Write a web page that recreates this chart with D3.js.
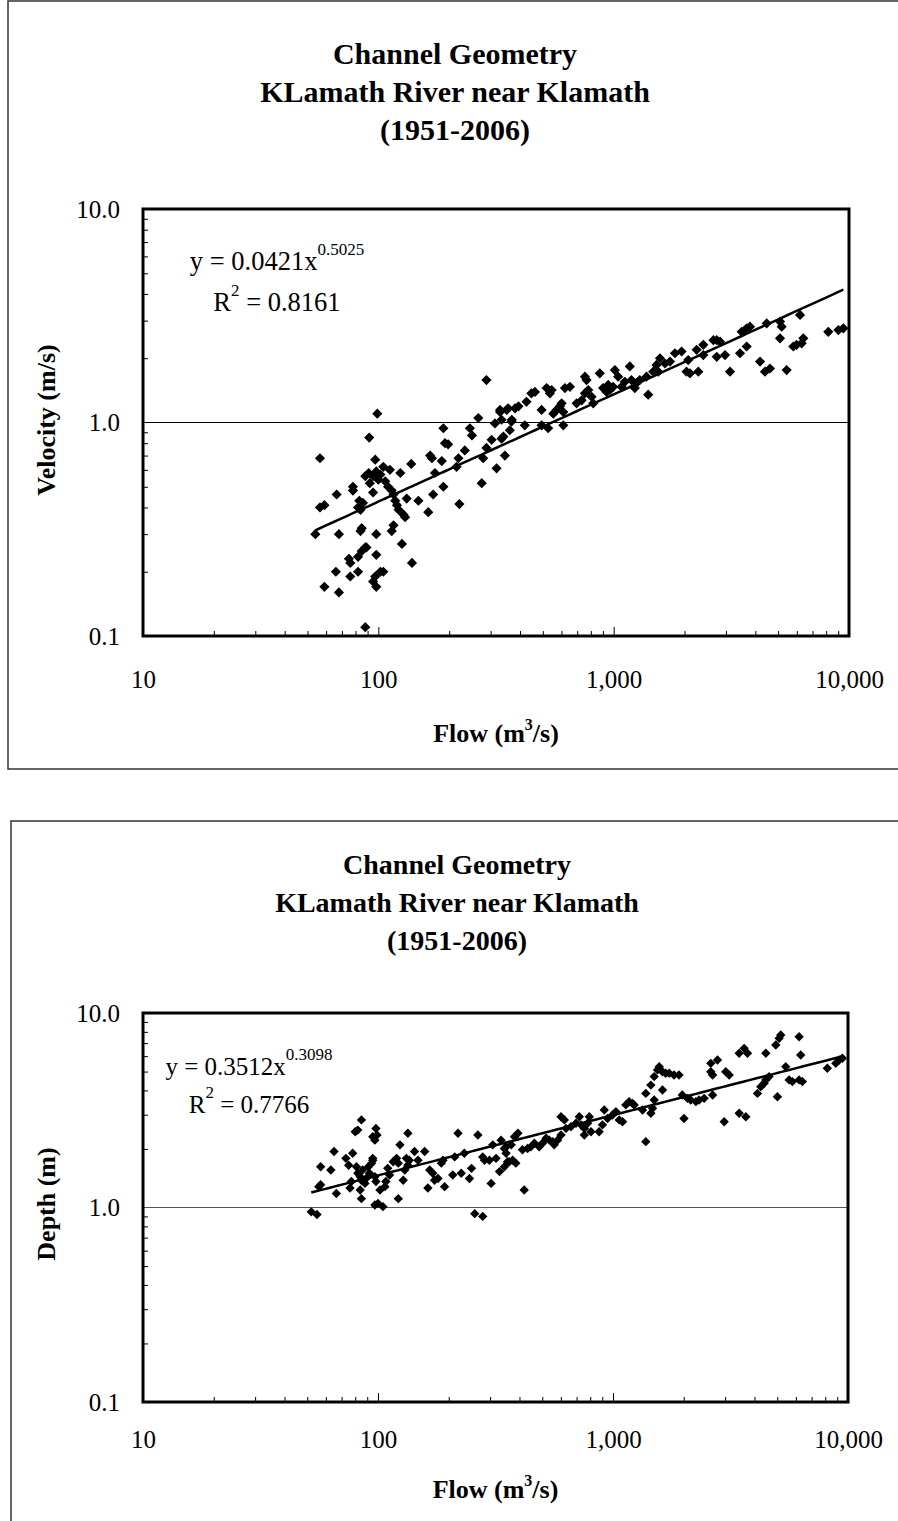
<!DOCTYPE html>
<html>
<head>
<meta charset="utf-8">
<script src="https://cdn.jsdelivr.net/npm/d3@7"></script>
<style>
  body { margin: 0; background: #fff; }
  svg text { font-family: "Times New Roman", "Liberation Serif", serif; fill: #000; }
</style>
</head>
<body>
<div id="chart"></div>
<script>
// ---- shared axis values ----
const flowTicks = [10, 100, 1000, 10000];
const flowTickLabels = ["10", "100", "1,000", "10,000"];
const yTicks = [0.1, 1, 10];
const yTickLabels = ["0.1", "1.0", "10.0"];
const titleLines = ["Channel Geometry", "KLamath River near Klamath", "(1951-2006)"];

// ---- velocity chart ----
const velocityFlow = [56.5, 99, 91.5, 288, 54, 56.5, 59, 66.5, 68, 78, 78, 83, 82, 84, 86, 88, 91, 92, 95, 97,
  98, 100, 102, 105, 107, 110, 112, 114, 116, 118, 120, 122, 124, 128, 130, 95, 84, 85, 98, 114,
  116, 126, 139, 88, 89, 85, 98, 75, 76, 82, 82, 76, 66, 59, 68, 95, 97, 98, 102, 105,
  88, 132, 138, 148, 163, 166, 169, 171, 174, 186, 189, 189, 192, 198, 219, 215, 221, 233, 245, 250,
  266, 275, 279, 288, 303, 313, 329, 334, 318, 345, 356, 362, 369, 381, 394, 329, 334, 340, 368, 351,
  419, 426, 447, 463, 494, 494, 527, 519, 545, 536, 554, 572, 591, 601, 611, 611, 621, 652, 696, 731,
  755, 767, 755, 780, 806, 819, 873, 902, 933, 948, 964, 995, 1012, 1045, 1080, 1115, 1171, 1190, 1230, 1250,
  1291, 1402, 1379, 1473, 1521, 1573, 1547, 1652, 1735, 1822, 1944, 2040, 2110, 2289, 2074, 2253, 2404, 2404, 2654, 2742,
  2832, 2742, 2973, 3122, 3499, 3675, 3796, 3443, 3675, 4188, 4396, 4616, 4470, 5092, 5175, 5092, 5433, 5800, 5990, 6293,
  6395, 6193, 8166, 9014, 9465];
const velocityValue = [0.68, 1.10, 0.85, 1.58, 0.30, 0.40, 0.41, 0.46, 0.30, 0.50, 0.48, 0.43, 0.40, 0.39, 0.42, 0.56, 0.58, 0.52, 0.56, 0.67,
  0.59, 0.54, 0.57, 0.62, 0.53, 0.50, 0.60, 0.48, 0.46, 0.43, 0.41, 0.39, 0.58, 0.37, 0.36, 0.47, 0.31, 0.32, 0.30, 0.31,
  0.33, 0.27, 0.22, 0.26, 0.26, 0.25, 0.24, 0.23, 0.22, 0.235, 0.20, 0.19, 0.20, 0.17, 0.16, 0.18, 0.19, 0.17, 0.20, 0.20,
  0.11, 0.44, 0.64, 0.43, 0.38, 0.70, 0.68, 0.46, 0.58, 0.66, 0.50, 0.94, 0.80, 0.79, 0.68, 0.62, 0.415, 0.74, 0.94, 0.87,
  1.05, 0.52, 0.68, 0.76, 0.83, 0.99, 1.12, 0.84, 0.61, 0.70, 1.165, 0.92, 1.03, 1.165, 1.19, 1.145, 1.03, 0.86, 1.01, 1.145,
  0.97, 1.25, 1.37, 1.39, 1.145, 0.97, 0.94, 1.45, 1.42, 1.37, 1.10, 1.145, 1.19, 1.23, 1.12, 0.97, 1.45, 1.47, 1.23, 1.27,
  1.37, 1.58, 1.64, 1.42, 1.32, 1.23, 1.70, 1.45, 1.39, 1.50, 1.42, 1.47, 1.76, 1.64, 1.47, 1.55, 1.83, 1.58, 1.45, 1.53,
  1.58, 1.35, 1.64, 1.73, 1.86, 2.00, 1.73, 1.89, 1.93, 2.11, 2.15, 1.73, 1.70, 1.73, 1.96, 2.19, 2.31, 2.07, 2.43, 2.43,
  2.39, 2.03, 2.07, 1.73, 2.66, 2.76, 2.81, 2.11, 2.27, 1.93, 1.73, 1.79, 2.91, 2.97, 2.81, 2.48, 1.76, 2.27, 2.31, 2.35,
  2.48, 3.19, 2.66, 2.71, 2.76];
const velocityFit = [0.0421, 0.5025];
const velocityEq = ["y = 0.0421x", "0.5025", "R", "2", " = 0.8161"];

// ---- depth chart ----
const depthFlow = [52, 55, 56, 57, 57, 63, 65, 66.5, 73, 75, 76, 77, 78, 80, 82, 81, 82, 84, 85, 86,
  88, 89, 91, 92, 94, 95, 97, 98, 85, 84, 85, 95, 97, 98, 99, 95, 97, 100, 105, 102,
  107, 108, 110, 112, 116, 120, 122, 122, 124, 128, 130, 132, 134, 136, 134, 143, 148, 158, 163, 166,
  171, 174, 180, 186, 189, 192, 208, 212, 219, 226, 233, 245, 250, 258, 279, 266, 279, 284, 298, 303,
  308, 318, 329, 334, 345, 351, 362, 369, 381, 394, 351, 345, 356, 374, 386, 419, 412, 433, 447, 463,
  485, 501, 519, 536, 554, 562, 581, 601, 601, 621, 631, 662, 696, 719, 731, 755, 780, 793, 806, 755,
  873, 902, 918, 948, 995, 1029, 1063, 1098, 1134, 1171, 1211, 1230, 1336, 1379, 1449, 1473, 1497, 1379, 1449, 1497,
  1547, 1573, 1624, 1676, 1735, 1818, 1909, 1624, 1972, 2074, 2141, 2253, 2323, 2442, 2005, 2654, 2607, 2784, 2607, 2654,
  2973, 3019, 3122, 3443, 3675, 3443, 3614, 3735, 4119, 4254, 4396, 4470, 4616, 4470, 5008, 4928, 5092, 5175, 5433, 5617,
  5800, 6193, 6395, 6193, 6293, 8166, 8872, 9167, 9465];
const depthValue = [0.95, 0.92, 1.28, 1.31, 1.62, 1.56, 1.94, 1.18, 1.79, 1.65, 1.26, 1.36, 1.90, 2.45, 2.50, 1.62, 1.50, 1.44, 1.38, 1.56,
  1.33, 1.41, 1.62, 1.50, 1.69, 1.75, 1.44, 1.36, 2.82, 1.23, 1.11, 2.31, 2.22, 2.55, 2.36, 1.79, 1.03, 1.05, 1.01, 1.23,
  1.28, 1.36, 1.59, 1.47, 1.72, 1.79, 1.69, 1.11, 2.10, 1.38, 1.56, 1.79, 1.65, 1.75, 2.41, 1.94, 1.75, 1.94, 1.26, 1.56,
  1.50, 1.38, 1.41, 1.69, 1.75, 1.28, 1.47, 1.82, 2.41, 1.50, 1.90, 1.41, 1.59, 0.93, 0.90, 2.36, 1.82, 1.75, 1.75, 1.33,
  2.10, 1.79, 1.53, 2.22, 2.01, 1.90, 1.72, 2.10, 2.31, 2.41, 2.05, 1.62, 1.72, 1.75, 1.69, 1.23, 1.98, 2.01, 2.05, 2.14,
  2.05, 2.14, 2.27, 2.22, 2.18, 2.10, 2.22, 2.36, 2.93, 2.82, 2.55, 2.60, 2.71, 2.93, 2.66, 2.55, 2.71, 2.93, 2.45, 2.36,
  2.45, 2.66, 3.17, 2.87, 2.99, 3.11, 2.82, 2.76, 3.37, 3.50, 3.43, 3.37, 3.17, 2.18, 3.05, 3.24, 3.57, 3.86, 4.26, 4.71,
  5.10, 5.30, 4.99, 4.90, 4.90, 4.80, 4.80, 4.02, 3.79, 3.64, 3.57, 3.50, 3.57, 3.64, 2.87, 3.79, 5.51, 5.73, 4.99, 4.80,
  2.76, 4.99, 4.80, 3.05, 2.93, 6.21, 6.58, 6.21, 3.86, 4.18, 4.35, 4.53, 4.71, 6.21, 3.71, 6.85, 7.41, 7.71, 5.30, 4.53,
  4.44, 4.53, 4.44, 7.55, 6.08, 5.20, 5.51, 5.73, 5.85];
const depthFit = [0.3512, 0.3098];
const depthEq = ["y = 0.3512x", "0.3098", "R", "2", " = 0.7766"];

const svg = d3.select("#chart").append("svg")
    .attr("width", 898)
    .attr("height", 1521);

function drawChart(o) {
    const g = svg.append("g");

    // outer chart frame
    g.append("rect")
        .attr("x", o.frame[0]).attr("y", o.frame[1])
        .attr("width", o.frame[2]).attr("height", o.frame[3])
        .attr("fill", "none").attr("stroke", "#333").attr("stroke-width", 1.5);

    const x = d3.scaleLog().domain([10, 10000]).range([o.left, o.right]);
    const y = d3.scaleLog().domain([0.1, 10]).range([o.bottom, o.top]);

    // title
    titleLines.forEach((t, i) => {
        g.append("text")
            .attr("x", o.titleX).attr("y", o.titleY[i])
            .attr("text-anchor", "middle")
            .attr("font-weight", "bold")
            .attr("font-size", o.titleSize)
            .text(t);
    });

    // gridline at 1.0
    g.append("line")
        .attr("x1", x(10)).attr("x2", x(10000))
        .attr("y1", y(1)).attr("y2", y(1))
        .attr("stroke", o.gridColor).attr("stroke-width", 1);

    // inside ticks
    const xMinor = x.ticks().filter(v => !flowTicks.includes(v));
    const yMinor = y.ticks().filter(v => !yTicks.includes(v));
    const noDomain = a => a.select(".domain").remove();

    g.append("g").attr("transform", `translate(0,${o.bottom})`)
        .call(d3.axisBottom(x).tickValues(xMinor).tickSize(-5).tickFormat(""))
        .call(noDomain);
    g.append("g").attr("transform", `translate(0,${o.bottom})`)
        .call(d3.axisBottom(x).tickValues([100, 1000]).tickSize(-9).tickFormat(""))
        .call(noDomain);
    g.append("g").attr("transform", `translate(${o.left},0)`)
        .call(d3.axisLeft(y).tickValues(yMinor).tickSize(-5).tickFormat(""))
        .call(noDomain);

    // tick labels
    g.append("g").attr("transform", `translate(0,${o.bottom})`)
        .call(d3.axisBottom(x).tickValues(flowTicks).tickSize(0).tickPadding(o.xPad)
            .tickFormat((d, i) => flowTickLabels[i]))
        .call(noDomain)
        .attr("font-family", null).attr("font-size", 25);
    g.append("g").attr("transform", `translate(${o.left},0)`)
        .call(d3.axisLeft(y).tickValues(yTicks).tickSize(0).tickPadding(23)
            .tickFormat((d, i) => yTickLabels[i]))
        .call(noDomain)
        .attr("font-family", null).attr("font-size", 25);

    // points
    const diamond = d3.symbol(d3.symbolSquare, o.markerSize);
    g.append("g").selectAll("path")
        .data(d3.zip(o.flow, o.value))
        .join("path")
        .attr("d", diamond)
        .attr("transform", d => `translate(${x(d[0])},${y(d[1])}) rotate(45)`)
        .attr("fill", "#000");

    // power trendline
    const [a, b] = o.fit;
    const xs = d3.sort(o.flow);
    g.append("path")
        .datum(xs)
        .attr("fill", "none").attr("stroke", "#000").attr("stroke-width", 2.5)
        .attr("d", d3.line().x(d => x(d)).y(d => y(a * Math.pow(d, b))));

    // plot box
    g.append("rect")
        .attr("x", o.left).attr("y", o.top)
        .attr("width", o.right - o.left).attr("height", o.bottom - o.top)
        .attr("fill", "none").attr("stroke", "#000").attr("stroke-width", 3);

    // equation
    const eq1 = g.append("text").attr("x", o.eqX).attr("y", o.eqY[0])
        .attr("text-anchor", "middle").attr("font-size", o.eqSize);
    eq1.append("tspan").text(o.eq[0]);
    eq1.append("tspan").attr("dy", -15).attr("font-size", 17).text(o.eq[1]);
    const eq2 = g.append("text").attr("x", o.eqX).attr("y", o.eqY[1])
        .attr("text-anchor", "middle").attr("font-size", o.eqSize);
    eq2.append("tspan").text(o.eq[2]);
    eq2.append("tspan").attr("dy", -15).attr("font-size", 17).text(o.eq[3]);
    eq2.append("tspan").attr("dy", 15).text(o.eq[4]);

    // axis titles
    const xt = g.append("text")
        .attr("x", (o.left + o.right) / 2).attr("y", o.xTitleY)
        .attr("text-anchor", "middle").attr("font-weight", "bold").attr("font-size", 26);
    xt.append("tspan").text("Flow (m");
    xt.append("tspan").attr("dy", -12).attr("font-size", 16).text("3");
    xt.append("tspan").attr("dy", 12).text("/s)");

    g.append("text")
        .attr("transform", `translate(55,${o.yTitleY}) rotate(-90)`)
        .attr("text-anchor", "middle").attr("font-weight", "bold").attr("font-size", 26)
        .text(o.yTitle);
}

drawChart({
    frame: [8, 1, 1000, 768],
    left: 143, right: 849, top: 209, bottom: 636,
    titleX: 455, titleY: [64, 102, 140], titleSize: 30,
    gridColor: "#000", xPad: 34,
    flow: velocityFlow, value: velocityValue, fit: velocityFit, markerSize: 52,
    eq: velocityEq, eqX: 277, eqY: [270, 311], eqSize: 26.5,
    xTitleY: 742, yTitle: "Velocity (m/s)", yTitleY: 420
});

drawChart({
    frame: [11, 821, 1000, 800],
    left: 143, right: 848, top: 1013, bottom: 1402,
    titleX: 457, titleY: [874, 912, 950], titleSize: 28,
    gridColor: "#555", xPad: 28,
    flow: depthFlow, value: depthValue, fit: depthFit, markerSize: 44,
    eq: depthEq, eqX: 249, eqY: [1075, 1113], eqSize: 25,
    xTitleY: 1498, yTitle: "Depth (m)", yTitleY: 1204
});
</script>
</body>
</html>
